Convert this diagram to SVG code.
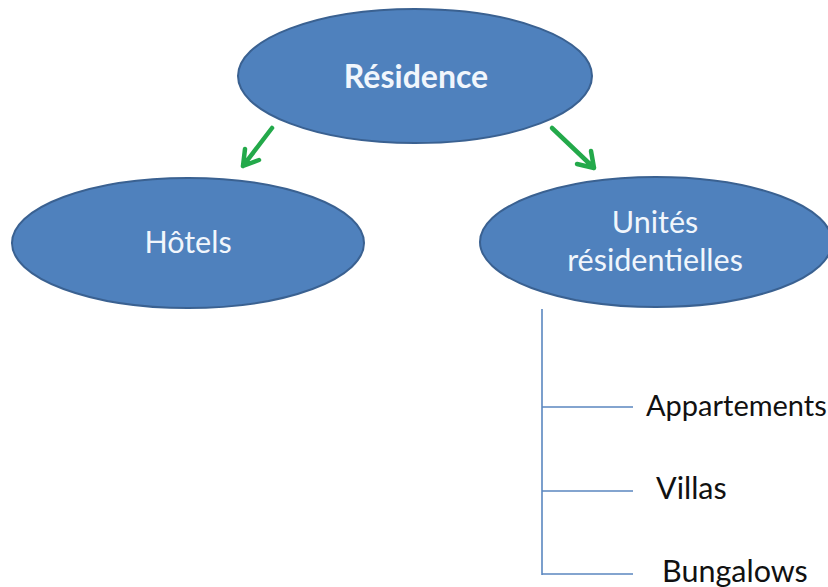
<svg xmlns="http://www.w3.org/2000/svg" width="828" height="587" viewBox="0 0 828 587">
<style>
.node{fill:#4f81bd;stroke:#3a6191;stroke-width:2}
.lbl{font-family:Lato,"Open Sans",sans-serif;font-size:30.5px;fill:#f1f6fc;text-anchor:middle}
.item{font-family:Lato,"Open Sans",sans-serif;font-size:30.5px;fill:#111}
.arrow{stroke:#23a94a;stroke-width:4.5;fill:none;stroke-linecap:round;stroke-linejoin:round}
.tree{stroke:#5b87c0;stroke-width:1.6;fill:none}
</style>
<rect width="828" height="587" fill="#fff"/>
<g id="residence">
<ellipse class="node" cx="415" cy="76" rx="177" ry="67"/>
<text class="lbl" x="416" y="88" font-weight="bold" style="font-size:32px">Résidence</text>
</g>
<g id="hotels">
<ellipse class="node" cx="188" cy="243" rx="176" ry="65"/>
<text class="lbl" x="188" y="253">Hôtels</text>
</g>
<g id="unites">
<ellipse class="node" cx="656" cy="242" rx="176" ry="65"/>
<text class="lbl" x="655" y="233">Unités</text>
<text class="lbl" x="655" y="271">résidentielles</text>
</g>
<g id="connectors">
<path class="arrow" d="M272,128 L243,166 M243,166 L245,149 M243,166 L259,160"/>
<path class="arrow" d="M552,128 L594,168 M594,168 L577,164 M594,168 L591,151"/>
<path class="tree" d="M542,309 V575 M542,407 H633 M542,491 H633 M542,574 H633"/>
</g>
<g id="appartements"><text class="item" x="646" y="416" style="font-size:29px">Appartements</text></g>
<g id="villas"><text class="item" x="656" y="499">Villas</text></g>
<g id="bungalows"><text class="item" x="662" y="582">Bungalows</text></g>
</svg>
